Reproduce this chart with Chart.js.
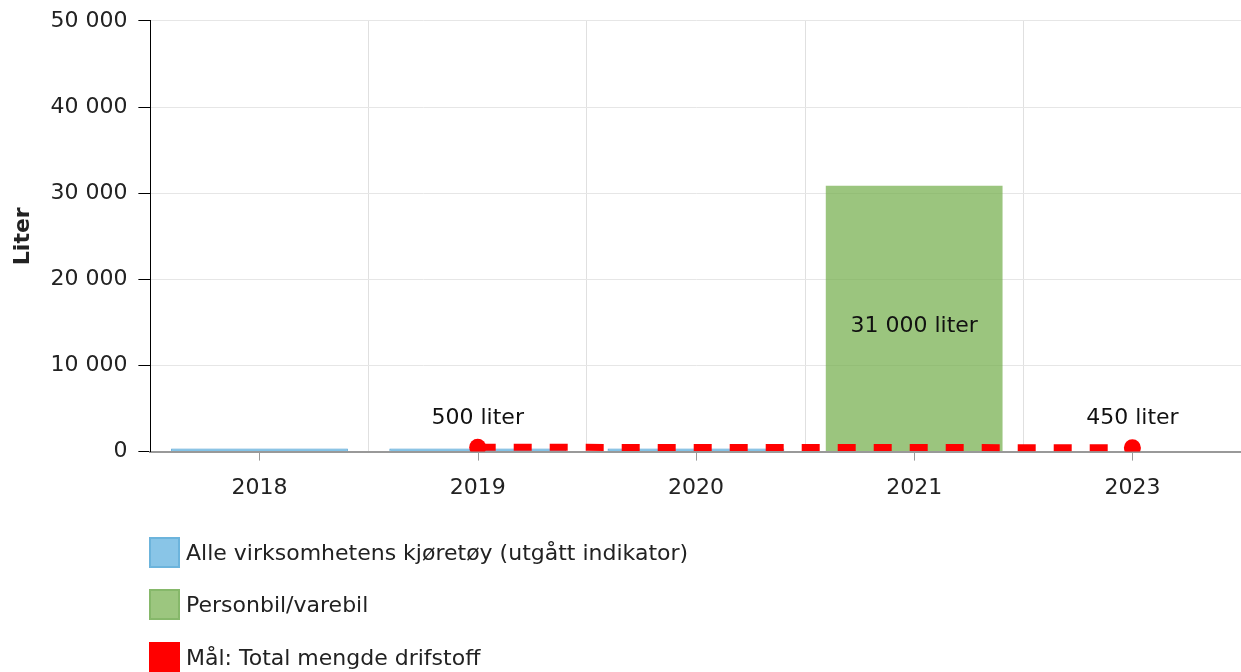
<!DOCTYPE html>
<html lang="no">
<head>
<meta charset="utf-8">
<title>Liter drivstoff</title>
<script src="https://cdn.jsdelivr.net/npm/chart.js@4.4.1/dist/chart.umd.min.js"></script>
<style>
  html, body { margin: 0; padding: 0; background: #fff; overflow: hidden; }
  .wrap { position: relative; width: 1241px; height: 672px; overflow: hidden; }
  canvas { display: block; }
  .legend { position: absolute; left: 149px; top: 537px; font: 22px "DejaVu Sans", Verdana, sans-serif; color: #222; }
  .legend__item { display: flex; align-items: center; height: 30px; margin-bottom: 22.5px; }
  .legend__box { width: 27px; height: 27px; border: 2px solid transparent; margin-right: 6px; flex: none; }
</style>
</head>
<body>
<div class="wrap">
  <canvas id="chart" width="1250" height="672" style="width:1250px;height:672px"></canvas>
  <div class="legend" id="legend"></div>
</div>
<script>
'use strict';

/* ══════════════ DATA ══════════════ */
const years       = ['2018', '2019', '2020', '2021', '2023'];
const allVehicles = [350, 350, 350, null, null];     // Alle virksomhetens kjøretøy (utgått indikator)
const carsVans    = [null, null, null, 30850, null]; // Personbil/varebil
const target      = [null, 500, null, null, 450];    // Mål: Total mengde drifstoff
const yTicks      = [0, 10000, 20000, 30000, 40000, 50000];

const FONT = '"DejaVu Sans", Verdana, sans-serif';
const TXT  = '#222';

/* ══════════════ HELPERS ══════════════ */
const spaced = v => String(v).replace(/\B(?=(\d{3})+(?!\d))/g, ' ');
// labels are shown rounded to two significant digits (30 850 -> 31 000)
const literLabel = v => spaced(Number(Number(v).toPrecision(2))) + ' liter';

/* ══════════════ PLUGINS ══════════════ */
// tick marks below the x axis at the category centres (grid lines sit between categories)
const centreTicks = {
  id: 'centreTicks',
  afterDraw(chart) {
    const x = chart.scales.x, ctx = chart.ctx;
    ctx.save();
    ctx.strokeStyle = '#999';
    ctx.lineWidth = 1;
    years.forEach((_, i) => {
      const px = Math.round(x.getPixelForValue(i)) + 0.5;
      ctx.beginPath();
      ctx.moveTo(px, x.top + 1);
      ctx.lineTo(px, x.top + 9);
      ctx.stroke();
    });
    ctx.restore();
  }
};

// value labels: above the target points, inside the green bar
const valueLabels = {
  id: 'valueLabels',
  afterDatasetsDraw(chart) {
    const ctx = chart.ctx;
    ctx.save();
    ctx.font = '22px ' + FONT;
    ctx.fillStyle = '#111';
    ctx.textAlign = 'center';
    ctx.textBaseline = 'middle';
    chart.data.datasets.forEach((ds, di) => {
      const meta = chart.getDatasetMeta(di);
      meta.data.forEach((el, i) => {
        const v = ds.data[i];
        if (v == null) return;
        if (ds.type === 'line') {
          ctx.fillText(literLabel(v), el.x, el.y - 29);
        } else if (ds.label === 'Personbil/varebil') {
          ctx.fillText(literLabel(v), el.x, (el.y + el.base) / 2 + 8);
        }
      });
    });
    ctx.restore();
  }
};

/* ══════════════ CHART ══════════════ */
const chart = new Chart(document.getElementById('chart'), {
  type: 'bar',
  data: {
    labels: years,
    datasets: [
      {
        type: 'line', label: 'Mål: Total mengde drifstoff', data: target, order: 0,
        borderColor: '#ff0000', borderWidth: 7, borderDash: [18, 18], borderCapStyle: 'butt',
        spanGaps: true, fill: false, tension: 0,
        pointRadius: 8.5, pointHoverRadius: 8.5, pointBackgroundColor: '#ff0000', pointBorderWidth: 0,
        legendFill: '#ff0000', legendBorder: '#ff0000'
      },
      {
        label: 'Alle virksomhetens kjøretøy (utgått indikator)', data: allVehicles, order: 1,
        backgroundColor: 'rgba(100,180,225,0.8)', borderColor: 'rgba(80,160,210,1)', borderWidth: 1,
        legendFill: '#89c5e7', legendBorder: '#6cb4dc'
      },
      {
        label: 'Personbil/varebil', data: carsVans, order: 1,
        backgroundColor: 'rgba(112,173,71,0.7)', borderWidth: 0,
        legendFill: '#9cc67f', legendBorder: '#86b86a'
      }
    ]
  },
  options: {
    responsive: false,
    animation: false,
    devicePixelRatio: 1,
    categoryPercentage: 0.9,
    barPercentage: 0.9,
    layout: { padding: { top: 14, left: 6, right: 0, bottom: 148 } },
    plugins: { legend: { display: false }, tooltip: { enabled: false } },
    scales: {
      x: {
        stacked: true,
        offset: true,
        grid: { offset: true, color: '#e0e0e0', drawTicks: false },
        border: { color: '#999', width: 2 },
        ticks: { padding: 23, color: TXT, font: { family: FONT, size: 22 } }
      },
      y: {
        stacked: false,
        min: 0, max: 50000,
        afterBuildTicks: s => { s.ticks = yTicks.map(v => ({ value: v })); },
        grid: { color: '#e6e6e6', tickColor: '#000', tickLength: 12 },
        border: { color: '#000', width: 1 },
        ticks: { padding: 11, color: TXT, font: { family: FONT, size: 22, lineHeight: 0.9 }, callback: v => spaced(v) },
        title: {
          display: true, text: 'Liter', color: TXT,
          font: { family: FONT, size: 22, weight: 'bold' },
          padding: { top: 4, bottom: 3 }
        }
      }
    }
  },
  plugins: [centreTicks, valueLabels]
});

/* ══════════════ LEGEND ══════════════ */
// vertical list under the plot, built from the datasets (bars first, target last)
const legendOrder = [1, 2, 0];
document.getElementById('legend').innerHTML = legendOrder.map(i => {
  const ds = chart.data.datasets[i];
  return `<div class="legend__item"><span class="legend__box" style="background:${ds.legendFill};border-color:${ds.legendBorder}"></span><span>${ds.label}</span></div>`;
}).join('');
</script>
</body>
</html>
